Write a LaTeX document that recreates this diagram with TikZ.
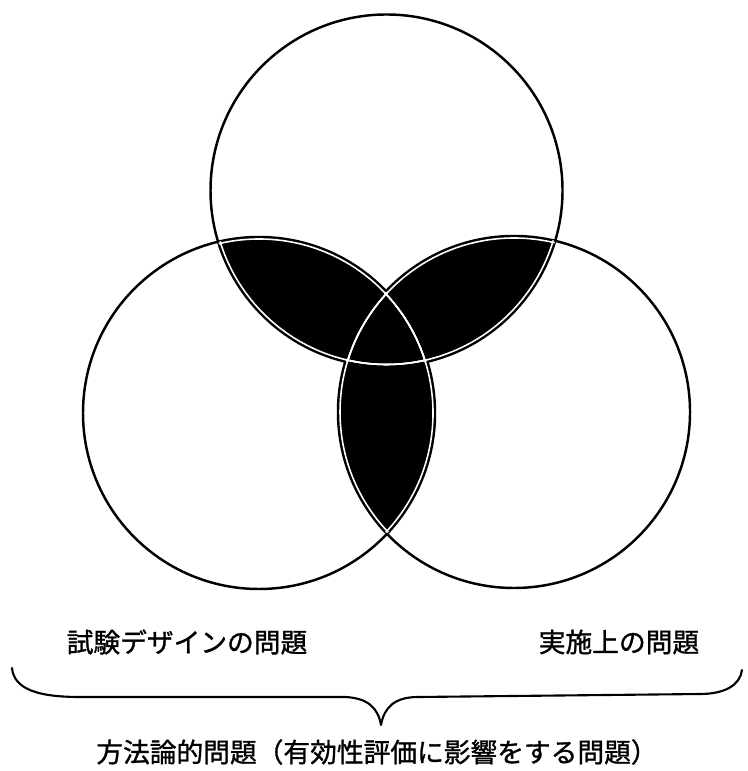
\documentclass[tikz,border=0pt]{standalone}
\usepackage{fontspec}
\newfontfamily\jpfont[FakeBold=1.2]{Noto Sans CJK JP}
\begin{document}
\begin{tikzpicture}[x=0.01cm, y=-0.01cm, line cap=round, line join=round,
    ring/.style={line width=0.7pt},
    gap/.style={white, line width=0.45pt},
    brc/.style={line width=0.6pt},
    lbl/.style={font=\jpfont\fontsize{7.6pt}{9pt}\selectfont, inner sep=0pt}]
  \useasboundingbox (0,0) rectangle (747,771);
  \coordinate (T) at (386.5,190.5);
  \coordinate (L) at (259,413);
  \coordinate (R) at (514,412);
  % 重なり部分
  \begin{scope}
    \clip (T) circle (176);
    \fill (L) circle (176);
    \fill (R) circle (176);
  \end{scope}
  \begin{scope}
    \clip (L) circle (176);
    \fill (R) circle (176);
  \end{scope}
  % 三つの円
  \foreach \c in {T,L,R}
    \draw[ring] (\c) circle (176);
  % 塗りの中の白い境界線
  \foreach \a/\b in {T/L, T/R, L/R} {
    \begin{scope}
      \clip (\a) circle (176);
      \clip (\b) circle (176);
      \foreach \c in {T,L,R}
        \draw[gap] (\c) circle (174);
    \end{scope}
  }
  % ラベル
  \node[lbl] (design) at (187,642) {試験デザインの問題};
  \node[lbl] (impl) at (619,642) {実施上の問題};
  \node[lbl] (method) at (377,752) {方法論的問題（有効性評価に影響をする問題）};
  % 括弧
  \coordinate (bl) at (12,668);
  \coordinate (br) at (742,670);
  \coordinate (tip) at (381,725);
  \draw[brc] (bl) .. controls (14,690) and (40,697) .. (80,697) -- (345,697)
    .. controls (368,698) and (378,708) .. (tip)
    .. controls (384,708) and (394,697) .. (418,697) -- (700,694)
    .. controls (725,694) and (740,685) .. (br);
\end{tikzpicture}
\end{document}
